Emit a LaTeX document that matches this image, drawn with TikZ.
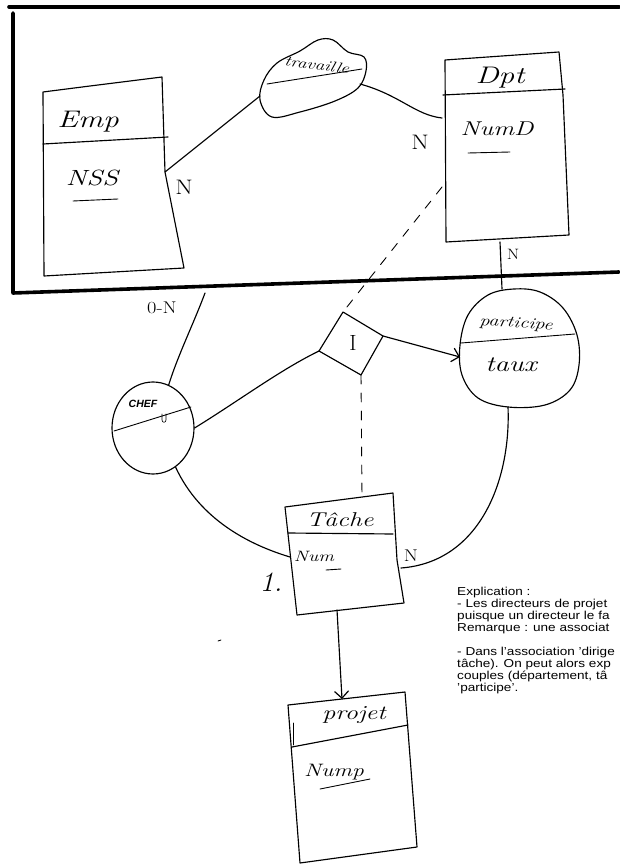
\documentclass[tikz,border=0pt]{standalone}
\usepackage{fontspec}
\setsansfont{Liberation Sans}
\usetikzlibrary{arrows.meta,shapes.geometric}
\begin{document}
\begin{tikzpicture}[x=1pt,y=-1pt, line cap=round, line join=round,
 pen/.style={line width=1.15pt},
 thinpen/.style={line width=0.9pt},
 frame/.style={line width=3.6pt},
 dashedpen/.style={line width=0.9pt, dash pattern=on 9pt off 9pt},
 hand/.style={font=\itshape\fontsize{#1}{#1}\selectfont, xscale=1.3, inner sep=0pt},
 card/.style={font=\fontsize{#1}{#1}\selectfont, xscale=1.2, inner sep=0pt},
 barb/.style={-{Straight Barb[length=7pt,width=14pt,line width=1.2pt]}},
 note/.style={font=\sffamily\fontsize{11.5}{12}\selectfont, xscale=1.18, anchor=base west, inner sep=0pt}]
\useasboundingbox (0,0) rectangle (619,866);
% frame
\draw[frame] (9,7) -- (619,7);
\draw[frame] (13,13) -- (13,293) -- (619,272);

% Emp entity
\coordinate (empTL) at (43,92); \coordinate (empTR) at (162,77);
\coordinate (empBR) at (184,268); \coordinate (empBL) at (44,276);
\coordinate (empR) at (165,172);
\draw[pen] (empTL) -- (90,86) -- (empTR) -- (empR) -- (empBR) -- (empBL) -- cycle;
\draw[pen] (43,144) -- (168,137);
\node[hand=24] (emp) at (88,122) {Emp};
\node[hand=22] (nss) at (92,178) {NSS};
\draw[thinpen] (73,201) -- (118,199);
\node[card=21] (nEmp) at (184,187) {N};

% travaille
\coordinate (travL) at (260,96);
\coordinate (travR) at (360,84);
\draw[pen] plot[smooth cycle, tension=0.6] coordinates {(272,117) (260,100) (264,80) (277,63) (300,51) (318,40) (333,40) (348,52) (364,57) (366,71) (358,88) (335,101) (300,112)};
\draw[thinpen] (267,84) -- (362,69);
\node[hand=14.5, rotate=-9] (trav) at (317,65) {travaille};
\draw[pen] (empR) -- (travL);

% Dpt entity
\coordinate (dptTL) at (445,60); \coordinate (dptTR) at (559,52);
\coordinate (dptBR) at (569,235); \coordinate (dptBL) at (446,242);
\coordinate (dptL) at (442,118);
\coordinate (dptLd) at (442,187);
\coordinate (dptB) at (500,242);
\draw[pen] (dptTL) -- (dptTR) -- (563,95) -- (dptBR) -- (dptBL) -- cycle;
\draw[pen] (443,95) -- (565,89);
\node[hand=24] (dpt) at (500,78) {Dpt};
\node[hand=20] (numd) at (497,129) {NumD};
\draw[thinpen] (468,153) -- (510,152);
\node[card=21] (nDpt) at (420,142) {N};
\draw[pen] (travR) .. controls (400,95) and (415,115) .. (dptL);

% participe
\coordinate (partT) at (514,289);
\coordinate (partL) at (460,357);
\coordinate (partB) at (508,407);
\draw[pen] plot[smooth cycle, tension=0.6] coordinates {(514,289) (540,292) (563,308) (577,335) (579,365) (570,390) (545,405) (508,407) (478,398) (462,375) (460,345) (468,315) (488,295)};
\draw[thinpen] (461,343) -- (575,334);
\node[hand=15.5, rotate=-5] (part) at (516,324) {participe};
\node[hand=22] (taux) at (511,365) {taux};
\draw[pen] (dptB) -- (502,289);
\node[card=15] (nPart) at (513,254) {N};

% CHEF
\node[draw, pen, ellipse, minimum width=82pt, minimum height=92pt, inner sep=0pt] (chef) at (153,428) {};
\draw[thinpen] (114,431) -- (191,407);
\node[font=\sffamily\bfseries\itshape\fontsize{10.5}{10.5}\selectfont, inner sep=0pt] (chefT) at (143,404) {CHEF};
\draw[line width=0.6pt] (162,414) -- (162,420) .. controls (162,423) and (166,423) .. (166,420) -- (166,414);
\coordinate (topChef) at (205,293);
\draw[pen] (topChef) .. controls (193,325) and (178,355) .. (chef.70);
\node[card=17] (zeroN) at (162,308) {0-N};

% diamond I
\coordinate (dT) at (343,312); \coordinate (dR) at (383,336);
\coordinate (dB) at (361,375); \coordinate (dL) at (319,351);
\draw[pen] (dT) -- (dR) -- (dB) -- (dL) -- cycle;
\node[font=\fontsize{22}{22}\selectfont, inner sep=0pt] (dI) at (353,343) {I};
\draw[dashedpen] (dptLd) -- (dT);
\draw[pen] (chef.east) .. controls (240,400) and (280,370) .. (dL);
\draw[pen, barb] (dR) -- (partL);

% Tache entity
\coordinate (tTL) at (285,507); \coordinate (tTR) at (393,493);
\coordinate (tBR) at (404,603); \coordinate (tBL) at (297,615);
\coordinate (tT) at (362,497); \coordinate (tR) at (401,568);
\coordinate (tL) at (290,557); \coordinate (tB) at (337,610);
\draw[pen] (tTL) -- (tTR) -- (397,560) -- (tBR) -- (tBL) -- cycle;
\draw[pen] (288,533) -- (393,534);
\node[hand=20] (tache) at (340,520) {Tâche};
\node[hand=15] (num) at (314,556) {Num};
\draw[thinpen] (326,570) -- (341,569);
\node[card=17] (nTache) at (411,556) {N};
\node[font=\itshape\fontsize{28}{28}\selectfont, inner sep=0pt] (one) at (271,582) {1.};
\draw[dashedpen] (dB) -- (tT);
\draw[pen] (partB) .. controls (511,480) and (480,562) .. (tR);
\draw[pen] (chef.-60) .. controls (200,520) and (250,545) .. (tL);

% projet entity
\coordinate (pTL) at (288,705); \coordinate (pTR) at (405,692);
\coordinate (pBR) at (417,847); \coordinate (pBL) at (300,863);
\coordinate (pT) at (342,699);
\draw[pen] (pTL) -- (pTR) -- (pBR) -- (pBL) -- cycle;
\draw[pen] (292,747) -- (408,725);
\draw[thinpen] (293,723) -- (293,745);
\node[hand=20] (projet) at (354,715) {projet};
\node[hand=18] (nump) at (334,772) {Nump};
\draw[thinpen] (320,789) -- (370,779);
\draw[pen, barb] (tB) -- (pT);
\draw[thinpen] (218,641) -- (221,640);

% explanation
\node[note] (e1) at (457,595) {Explication :};
\node[note] (e2) at (457,607) {- Les directeurs de projet};
\node[note] (e3) at (457,619) {puisque un directeur le fa};
\node[note] (e4) at (457,631) {Remarque : une associat};
\node[note] (e5) at (457,655) {- Dans l'association 'dirige};
\node[note] (e6) at (457,667) {tâche). On peut alors exp};
\node[note] (e7) at (457,679) {couples (département, tâ};
\node[note] (e8) at (457,691) {'participe'.};
\end{tikzpicture}
\end{document}
